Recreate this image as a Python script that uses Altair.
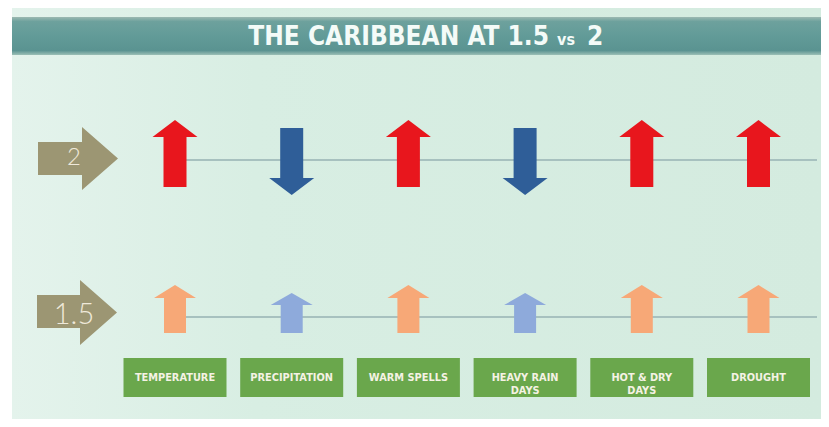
import altair as alt
import pandas as pd

# ---- data -------------------------------------------------------------
categories = ["TEMPERATURE", "PRECIPITATION", "WARM SPELLS",
              "HEAVY RAIN DAYS", "HOT & DRY DAYS", "DROUGHT"]
box_labels = ["TEMPERATURE", "PRECIPITATION", "WARM SPELLS",
              "HEAVY RAIN\nDAYS", "HOT & DRY\nDAYS", "DROUGHT"]
kind = ["heat", "rain", "heat", "rain", "heat", "heat"]
change_at_2 = ["up", "down", "up", "down", "up", "up"]
change_at_15 = ["up", "up", "up", "up", "up", "up"]
levels = ["2", "1.5"]
title_main = "THE CARIBBEAN AT 1.5"
title_vs = "vs"
title_end = "2"

# ---- tables built from the lists ---------------------------------------
rows = []
for i, c in enumerate(categories):
    rows.append({"category": c, "level": "2",
                 "glyph": f"{change_at_2[i]}-2", "tone": f"{kind[i]}-2"})
    rows.append({"category": c, "level": "1.5",
                 "glyph": f"{kind[i]}-{change_at_15[i]}-1.5", "tone": f"{kind[i]}-1.5"})
arrows = pd.DataFrame(rows)
boxes = pd.DataFrame({"category": categories, "label": box_labels})
lv = pd.DataFrame({"level": levels, "glyph": [f"tan-{l}" for l in levels],
                   "tone": ["tan"] * len(levels), "text": levels})
one = pd.DataFrame({"k": [0]})

# ---- glyph shapes (unit = 10 px at size 400) ---------------------------
glyph_domain = ["up-2", "down-2", "heat-up-1.5", "rain-up-1.5", "tan-2", "tan-1.5"]
glyph_paths = [
    "M0,-4 L2.25,-2.3 L1.15,-2.3 L1.15,2.7 L-1.15,2.7 L-1.15,-2.3 L-2.25,-2.3 Z",
    "M-1.15,-3.2 L1.15,-3.2 L1.15,1.8 L2.25,1.8 L0,3.5 L-2.25,1.8 L-1.15,1.8 Z",
    "M0,-3.2 L2.1,-1.9 L1.1,-1.9 L1.1,1.6 L-1.1,1.6 L-1.1,-1.9 L-2.1,-1.9 Z",
    "M0,-2.4 L2.1,-1.2 L1.1,-1.2 L1.1,1.6 L-1.1,1.6 L-1.1,-1.2 L-2.1,-1.2 Z",
    "M-4,-1.8 L0.4,-1.8 L0.4,-3.3 L4,-0.15 L0.4,3.0 L0.4,1.5 L-4,1.5 Z",
    "M-4.1,-2.2 L0.2,-2.2 L0.2,-3.7 L3.9,-0.45 L0.2,2.8 L0.2,1.1 L-4.1,1.1 Z",
]
tone_domain = ["heat-2", "rain-2", "heat-1.5", "rain-1.5", "tan"]
tone_range = ["#e8161d", "#2f5e98", "#f7a877", "#8eaadb", "#9c9673"]

W, H = 813, 411

xs = alt.Scale(type="band", domain=categories, range=[108.65, 808.85],
               paddingInner=0, paddingOuter=0)
ys = alt.Scale(type="point", domain=levels, range=[152, 309], padding=0)
X = alt.X("category:N", scale=xs, axis=None)
Y = alt.Y("level:N", scale=ys, axis=None)
shape_enc = alt.Shape("glyph:N", scale=alt.Scale(domain=glyph_domain, range=glyph_paths), legend=None)
color_enc = alt.Color("tone:N", scale=alt.Scale(domain=tone_domain, range=tone_range), legend=None)

# background panel (lighter on the left)
panel = alt.Chart(one).mark_rect(
    color=alt.Gradient(gradient="linear", x1=0, x2=1, y1=0, y2=0,
                       stops=[alt.GradientStop(color="#e4f3ec", offset=0),
                              alt.GradientStop(color="#d8eee3", offset=0.3),
                              alt.GradientStop(color="#d4ebdf", offset=1)])
).encode(x=alt.value(4), x2=alt.value(W), y=alt.value(0), y2=alt.value(H))

band = alt.Chart(one).mark_rect(
    color=alt.Gradient(gradient="linear", x1=0, x2=0, y1=0, y2=1,
                       stops=[alt.GradientStop(color="#9cb9b1", offset=0),
                              alt.GradientStop(color="#6da19d", offset=0.12),
                              alt.GradientStop(color="#629b98", offset=0.5),
                              alt.GradientStop(color="#5a9391", offset=0.88),
                              alt.GradientStop(color="#9cbfb6", offset=1)])
).encode(x=alt.value(4), x2=alt.value(W), y=alt.value(9), y2=alt.value(47))

tfont = "DejaVu Sans Condensed, Roboto, sans-serif"
t1 = alt.Chart(one).mark_text(text=title_main, font=tfont, fontWeight="bold", fontSize=26,
                              color="#f4fbf8", align="right", baseline="alphabetic").encode(
    x=alt.value(541), y=alt.value(37))
t2 = alt.Chart(one).mark_text(text=title_vs, font=tfont, fontWeight="bold", fontSize=16,
                              color="#f4fbf8", align="left", baseline="alphabetic").encode(
    x=alt.value(549), y=alt.value(37))
t3 = alt.Chart(one).mark_text(text=title_end, font=tfont, fontWeight="bold", fontSize=26,
                              color="#f4fbf8", align="left", baseline="alphabetic").encode(
    x=alt.value(579), y=alt.value(37))

lines = alt.Chart(lv).mark_rule(color="#a7c1bf", strokeWidth=2).encode(
    y=Y, x=alt.value(162), x2=alt.value(809))

level_arrows = alt.Chart(lv).mark_point(size=400, filled=True, opacity=1, strokeWidth=0).encode(
    x=alt.value(70), y=Y, shape=shape_enc, color=color_enc)

level_text = alt.Chart(lv).mark_text(font="Lato", fontWeight=300, color="#efe9da",
                                     align="center", baseline="middle", dy=-2).encode(
    x=alt.value(66), y=Y, text="text:N",
    size=alt.Size("level:N", scale=alt.Scale(domain=levels, range=[24, 29]), legend=None))

arrow_marks = alt.Chart(arrows).mark_point(size=400, filled=True, opacity=1, strokeWidth=0).encode(
    x=X, y=Y, shape=shape_enc, color=color_enc)

box_rects = alt.Chart(boxes).mark_bar(width=103, color="#6aa74c").encode(
    x=X, y=alt.value(350), y2=alt.value(389))

box_text = alt.Chart(boxes).mark_text(font="DejaVu Sans", fontWeight="bold", fontSize=9.8,
                                      color="#f5f2e4", lineBreak="\n", lineHeight=13,
                                      baseline="middle").encode(
    x=X, y=alt.value(370), text="label:N")

chart = alt.layer(panel, band, t1, t2, t3, lines, level_arrows, level_text,
                  arrow_marks, box_rects, box_text).properties(
    width=W, height=H, padding=0, autosize=alt.AutoSizeParams(type="none"),
    background="white"
).resolve_scale(size="independent").configure_view(stroke=None)

chart.save("out.html", embed_options={"renderer": "svg", "actions": False})
